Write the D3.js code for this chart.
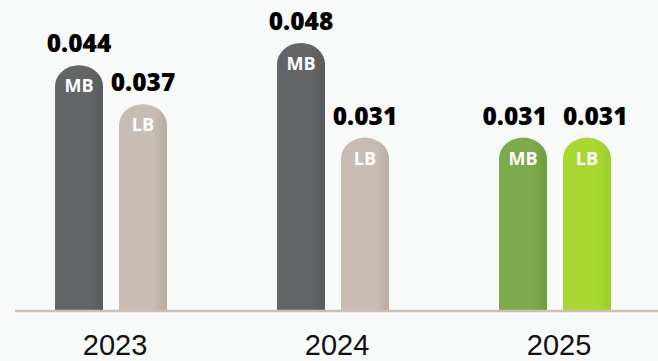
<!DOCTYPE html>
<html>
<head>
<meta charset="utf-8">
<script src="https://cdn.jsdelivr.net/npm/d3@7"></script>
<style>
  html, body { margin: 0; padding: 0; background: #f8f9f9; }
  svg { display: block; }
</style>
</head>
<body>
<svg id="chart" width="658" height="361"></svg>
<script>
// Yearly values for the two series
const years = ["2023", "2024", "2025"];
const series = ["MB", "LB"];
const mbValues = [0.044, 0.048, 0.031];
const lbValues = [0.037, 0.031, 0.031];

const W = 658, H = 361;
const baseY = 310;

const svg = d3.select("#chart");

// Colour ramps per year/series: [left, right]
const palette = {
  "2023": { MB: ["#646567", "#5a5b5d"], LB: ["#c8bcb3", "#b9aca3"] },
  "2024": { MB: ["#646567", "#5a5b5d"], LB: ["#c8bcb3", "#b9aca3"] },
  "2025": { MB: ["#7caa4c", "#6f9c41"], LB: ["#a8d831", "#9dcd2b"] }
};

const defs = svg.append("defs");
years.forEach(yr => {
  series.forEach(s => {
    const g = defs.append("linearGradient")
      .attr("id", `g-${yr}-${s}`)
      .attr("x1", "0%").attr("x2", "100%").attr("y1", "0%").attr("y2", "0%");
    g.append("stop").attr("offset", "0%").attr("stop-color", palette[yr][s][0]);
    g.append("stop").attr("offset", "70%").attr("stop-color", palette[yr][s][0]);
    g.append("stop").attr("offset", "100%").attr("stop-color", palette[yr][s][1]);
  });
});

const x0 = d3.scaleBand().domain(years).range([0, 666]);
const x1 = d3.scaleBand().domain(series).range([0, 112]).paddingInner(0.25);
const y = d3.scaleLinear().domain([0, 0.048]).range([baseY, 43]);

const rows = [];
years.forEach((yr, i) => {
  rows.push({ year: yr, s: "MB", v: mbValues[i] });
  rows.push({ year: yr, s: "LB", v: lbValues[i] });
});

const barX = d => x0(d.year) + x0.bandwidth() / 2 - 56 + x1(d.s);
const bw = x1.bandwidth();

// Bar with rounded top cap
function barPath(d) {
  const x = barX(d), top = y(d.v), w = bw;
  const rx = w / 2, ry = 21;
  return `M${x},${baseY} L${x},${top + ry} A${rx},${ry} 0 0 1 ${x + w},${top + ry} L${x + w},${baseY} Z`;
}

const bars = svg.append("g").selectAll("g").data(rows).join("g");

bars.append("path")
  .attr("d", barPath)
  .attr("fill", d => `url(#g-${d.year}-${d.s})`);

// Series tag inside the bar
bars.append("text")
  .attr("x", d => barX(d) + bw / 2)
  .attr("y", d => y(d.v) + 27)
  .attr("text-anchor", "middle")
  .attr("font-family", "Open Sans, sans-serif")
  .attr("font-weight", "bold")
  .attr("font-size", 18)
  .attr("fill", "#ffffff")
  .text(d => d.s);

// Value above the bar
const valueLabels = bars.append("text")
  .attr("class", "value")
  .attr("x", d => barX(d) + bw / 2)
  .attr("y", d => y(d.v) - 13)
  .attr("text-anchor", "middle")
  .attr("font-family", "Open Sans, sans-serif")
  .attr("font-weight", 800)
  .attr("font-size", 24.5)
  .attr("fill", "#000000")
  .text(d => d3.format(".3f")(d.v));

// Spread apart value labels of a pair that sit at the same height and collide
const minGap = 16;
years.forEach(yr => {
  const pair = valueLabels.filter(d => d.year === yr).nodes();
  if (pair.length !== 2) return;
  const [a, b] = pair;
  const ba = a.getBBox(), bb = b.getBBox();
  const vertOverlap = ba.y < bb.y + bb.height && bb.y < ba.y + ba.height;
  const need = (ba.x + ba.width + minGap) - bb.x;
  if (vertOverlap && need > 0) {
    a.setAttribute("x", +a.getAttribute("x") - need / 2);
    b.setAttribute("x", +b.getAttribute("x") + need / 2);
  }
});

// Baseline
svg.append("line")
  .attr("x1", 15).attr("x2", W)
  .attr("y1", baseY + 1).attr("y2", baseY + 1)
  .attr("stroke", "#cbbfb6")
  .attr("stroke-width", 2.5);

// Year labels
const xAxis = d3.axisBottom(x0).tickSize(0).tickPadding(0);
const axisG = svg.append("g").attr("transform", `translate(0,${baseY})`).call(xAxis);
axisG.select(".domain").remove();
axisG.selectAll("text")
  .attr("x", 4)
  .attr("y", 45)
  .attr("dy", null)
  .attr("font-family", "Liberation Sans, Arial, sans-serif")
  .attr("font-size", 29)
  .attr("fill", "#111111");
</script>
</body>
</html>
